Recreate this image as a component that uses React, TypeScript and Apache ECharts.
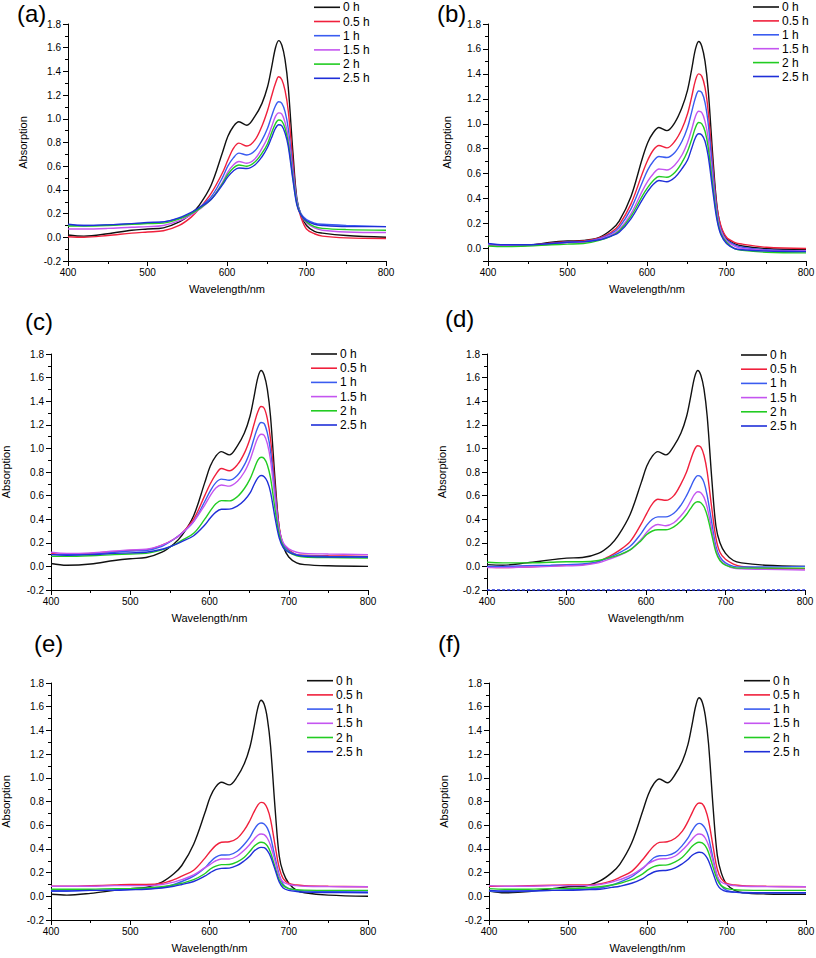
import React, { useEffect, useRef } from 'react';
import * as echarts from 'echarts';

// Wavelength grid (nm) shared by all curves
const WAVELENGTHS = [400, 420, 450, 480, 500, 520, 540, 555, 565, 580, 594, 601, 608, 615, 625, 635, 644, 651, 656, 661, 665, 669, 673, 677, 683, 688, 693, 700, 710, 720, 750, 800];

const SERIES_NAMES = ['0 h', '0.5 h', '1 h', '1.5 h', '2 h', '2.5 h'];
const COLORS = ['#111111', '#f0203c', '#3a5cf0', '#c455f0', '#22cc22', '#1f2fd8'];

const X_TICKS = [400, 500, 600, 700, 800];
const Y_TICKS = [-0.2, 0.0, 0.2, 0.4, 0.6, 0.8, 1.0, 1.2, 1.4, 1.6, 1.8];

// Panel (a)
const PANEL_A: number[][] = [
  [0.02, 0.01, 0.03, 0.06, 0.07, 0.08, 0.13, 0.2, 0.27, 0.44, 0.71, 0.85, 0.935, 0.975, 0.945, 1.02, 1.13, 1.27, 1.43, 1.6, 1.66, 1.62, 1.5, 1.27, 0.71, 0.32, 0.19, 0.1, 0.05, 0.035, 0.015, 0.0],
  [0.005, 0.0, 0.015, 0.035, 0.045, 0.055, 0.1, 0.17, 0.24, 0.37, 0.54, 0.65, 0.75, 0.795, 0.77, 0.82, 0.94, 1.07, 1.19, 1.3, 1.355, 1.33, 1.24, 1.07, 0.63, 0.3, 0.17, 0.07, 0.03, 0.01, -0.005, -0.01],
  [0.105, 0.1, 0.105, 0.115, 0.12, 0.13, 0.16, 0.2, 0.25, 0.34, 0.5, 0.6, 0.67, 0.71, 0.695, 0.73, 0.82, 0.92, 1.02, 1.11, 1.144, 1.13, 1.06, 0.92, 0.57, 0.31, 0.2, 0.15, 0.12, 0.11, 0.1, 0.09],
  [0.07, 0.07, 0.075, 0.085, 0.09, 0.1, 0.14, 0.19, 0.235, 0.32, 0.46, 0.55, 0.61, 0.64, 0.625, 0.66, 0.75, 0.84, 0.93, 1.02, 1.05, 1.04, 0.97, 0.85, 0.53, 0.29, 0.19, 0.12, 0.08, 0.06, 0.045, 0.04],
  [0.095, 0.095, 0.1, 0.11, 0.115, 0.12, 0.155, 0.2, 0.24, 0.32, 0.45, 0.53, 0.585, 0.61, 0.6, 0.635, 0.71, 0.79, 0.88, 0.96, 0.99, 0.98, 0.92, 0.8, 0.5, 0.28, 0.19, 0.13, 0.09, 0.075, 0.065, 0.06],
  [0.11, 0.1, 0.105, 0.115, 0.125, 0.13, 0.165, 0.21, 0.25, 0.32, 0.44, 0.51, 0.56, 0.585, 0.58, 0.61, 0.68, 0.76, 0.84, 0.92, 0.95, 0.94, 0.88, 0.77, 0.48, 0.27, 0.19, 0.14, 0.11, 0.1, 0.09, 0.09],
];

// Panel (b)
const PANEL_B: number[][] = [
  [0.03, 0.02, 0.025, 0.05, 0.06, 0.065, 0.09, 0.15, 0.22, 0.42, 0.72, 0.85, 0.93, 0.97, 0.945, 1.01, 1.13, 1.27, 1.43, 1.6, 1.66, 1.62, 1.5, 1.27, 0.72, 0.34, 0.17, 0.08, 0.04, 0.02, 0.0, -0.01],
  [0.03, 0.02, 0.025, 0.045, 0.055, 0.06, 0.085, 0.13, 0.19, 0.36, 0.6, 0.71, 0.79, 0.826, 0.807, 0.86, 0.96, 1.08, 1.21, 1.35, 1.4, 1.38, 1.29, 1.1, 0.65, 0.33, 0.18, 0.09, 0.05, 0.035, 0.01, 0.0],
  [0.035, 0.025, 0.025, 0.04, 0.05, 0.055, 0.08, 0.12, 0.17, 0.32, 0.53, 0.63, 0.7, 0.738, 0.73, 0.77, 0.86, 0.97, 1.09, 1.21, 1.263, 1.25, 1.17, 1.0, 0.6, 0.3, 0.15, 0.07, 0.03, 0.01, -0.01, -0.02],
  [0.03, 0.025, 0.025, 0.035, 0.045, 0.05, 0.075, 0.11, 0.15, 0.28, 0.46, 0.54, 0.6, 0.638, 0.63, 0.67, 0.75, 0.85, 0.95, 1.06, 1.1, 1.09, 1.02, 0.88, 0.53, 0.27, 0.14, 0.06, 0.02, 0.0, -0.015, -0.02],
  [0.02, 0.015, 0.02, 0.03, 0.035, 0.04, 0.065, 0.1, 0.14, 0.26, 0.42, 0.49, 0.545, 0.577, 0.572, 0.61, 0.69, 0.78, 0.87, 0.97, 1.01, 1.0, 0.94, 0.81, 0.49, 0.25, 0.12, 0.05, 0.0, -0.015, -0.03, -0.035],
  [0.04, 0.03, 0.03, 0.04, 0.05, 0.055, 0.07, 0.1, 0.13, 0.24, 0.39, 0.46, 0.515, 0.545, 0.535, 0.57, 0.64, 0.71, 0.8, 0.89, 0.92, 0.91, 0.86, 0.74, 0.45, 0.23, 0.11, 0.04, 0.0, -0.01, -0.02, -0.025],
];

// Panel (c)
const PANEL_C: number[][] = [
  [0.025, 0.01, 0.02, 0.05, 0.065, 0.075, 0.12, 0.19, 0.26, 0.43, 0.71, 0.85, 0.935, 0.973, 0.945, 1.02, 1.13, 1.27, 1.43, 1.6, 1.66, 1.62, 1.5, 1.27, 0.71, 0.32, 0.17, 0.08, 0.03, 0.015, 0.005, 0.0],
  [0.11, 0.1, 0.11, 0.125, 0.135, 0.14, 0.18, 0.23, 0.28, 0.4, 0.6, 0.7, 0.78, 0.83, 0.81, 0.86, 0.96, 1.08, 1.2, 1.31, 1.355, 1.34, 1.25, 1.08, 0.65, 0.33, 0.19, 0.14, 0.1, 0.095, 0.09, 0.085],
  [0.1, 0.1, 0.105, 0.12, 0.13, 0.135, 0.17, 0.23, 0.28, 0.38, 0.55, 0.64, 0.71, 0.74, 0.73, 0.77, 0.86, 0.97, 1.08, 1.18, 1.22, 1.21, 1.13, 0.98, 0.6, 0.31, 0.19, 0.13, 0.1, 0.09, 0.085, 0.08],
  [0.12, 0.11, 0.115, 0.13, 0.14, 0.145, 0.18, 0.23, 0.28, 0.38, 0.52, 0.6, 0.665, 0.69, 0.68, 0.72, 0.8, 0.9, 1.0, 1.09, 1.12, 1.11, 1.04, 0.9, 0.56, 0.31, 0.2, 0.15, 0.12, 0.11, 0.105, 0.1],
  [0.085, 0.085, 0.09, 0.1, 0.105, 0.11, 0.14, 0.18, 0.22, 0.28, 0.4, 0.47, 0.53, 0.557, 0.555, 0.59, 0.66, 0.74, 0.82, 0.9, 0.925, 0.915, 0.86, 0.75, 0.47, 0.27, 0.17, 0.12, 0.09, 0.08, 0.075, 0.07],
  [0.1, 0.095, 0.1, 0.11, 0.115, 0.12, 0.145, 0.18, 0.21, 0.26, 0.35, 0.41, 0.46, 0.484, 0.485, 0.51, 0.56, 0.62, 0.69, 0.75, 0.77, 0.76, 0.72, 0.63, 0.4, 0.24, 0.16, 0.12, 0.095, 0.085, 0.08, 0.08],
];

// Panel (d)
const PANEL_D: number[][] = [
  [0.015, 0.01, 0.03, 0.055, 0.07, 0.075, 0.11, 0.18, 0.26, 0.44, 0.71, 0.85, 0.935, 0.973, 0.945, 1.02, 1.13, 1.27, 1.43, 1.6, 1.66, 1.62, 1.5, 1.27, 0.72, 0.34, 0.2, 0.11, 0.05, 0.03, 0.01, 0.0],
  [-0.005, -0.01, -0.005, 0.005, 0.01, 0.015, 0.04, 0.09, 0.13, 0.21, 0.36, 0.45, 0.53, 0.569, 0.56, 0.6, 0.7, 0.8, 0.9, 0.99, 1.023, 1.01, 0.94, 0.8, 0.48, 0.24, 0.12, 0.06, 0.02, 0.0, -0.015, -0.02],
  [0.0, 0.0, 0.005, 0.01, 0.015, 0.02, 0.04, 0.08, 0.11, 0.17, 0.28, 0.35, 0.4, 0.42, 0.42, 0.45, 0.52, 0.6, 0.67, 0.74, 0.769, 0.76, 0.71, 0.6, 0.36, 0.17, 0.08, 0.03, 0.0, -0.005, -0.005, 0.0],
  [-0.01, -0.01, -0.005, 0.0, 0.005, 0.01, 0.03, 0.065, 0.09, 0.14, 0.23, 0.29, 0.335, 0.355, 0.345, 0.37, 0.43, 0.49, 0.55, 0.61, 0.633, 0.625, 0.585, 0.5, 0.3, 0.14, 0.06, 0.015, -0.015, -0.02, -0.025, -0.03],
  [0.035, 0.03, 0.03, 0.035, 0.04, 0.04, 0.05, 0.075, 0.095, 0.14, 0.22, 0.27, 0.3, 0.31, 0.31, 0.335, 0.385, 0.44, 0.49, 0.535, 0.548, 0.54, 0.505, 0.43, 0.26, 0.12, 0.05, 0.01, -0.01, -0.015, -0.015, -0.015],
  [-0.2, -0.2, -0.2, -0.2, -0.2, -0.2, -0.2, -0.2, -0.2, -0.2, -0.2, -0.2, -0.2, -0.2, -0.2, -0.2, -0.2, -0.2, -0.2, -0.2, -0.2, -0.2, -0.2, -0.2, -0.2, -0.2, -0.2, -0.2, -0.2, -0.2, -0.2, -0.2],
];

// Panel (e)
const PANEL_E: number[][] = [
  [0.017, 0.01, 0.025, 0.05, 0.065, 0.075, 0.12, 0.19, 0.26, 0.44, 0.7, 0.84, 0.925, 0.963, 0.94, 1.01, 1.12, 1.26, 1.42, 1.59, 1.655, 1.62, 1.5, 1.27, 0.72, 0.34, 0.2, 0.11, 0.05, 0.03, 0.01, 0.0],
  [0.085, 0.085, 0.09, 0.095, 0.1, 0.1, 0.11, 0.14, 0.17, 0.22, 0.32, 0.38, 0.43, 0.456, 0.46, 0.49, 0.56, 0.64, 0.71, 0.77, 0.793, 0.785, 0.74, 0.65, 0.42, 0.24, 0.15, 0.11, 0.095, 0.09, 0.085, 0.08],
  [0.045, 0.045, 0.05, 0.055, 0.06, 0.065, 0.075, 0.1, 0.125, 0.17, 0.24, 0.29, 0.33, 0.348, 0.35, 0.38, 0.44, 0.5, 0.56, 0.605, 0.619, 0.61, 0.575, 0.5, 0.32, 0.18, 0.1, 0.065, 0.05, 0.045, 0.04, 0.037],
  [0.085, 0.085, 0.085, 0.09, 0.09, 0.09, 0.1, 0.12, 0.14, 0.18, 0.24, 0.27, 0.3, 0.315, 0.315, 0.34, 0.39, 0.44, 0.48, 0.515, 0.526, 0.52, 0.49, 0.43, 0.29, 0.17, 0.12, 0.1, 0.09, 0.085, 0.082, 0.08],
  [0.06, 0.06, 0.06, 0.065, 0.065, 0.07, 0.08, 0.095, 0.11, 0.14, 0.19, 0.23, 0.255, 0.267, 0.268, 0.29, 0.33, 0.38, 0.42, 0.447, 0.456, 0.45, 0.425, 0.37, 0.24, 0.14, 0.09, 0.065, 0.055, 0.052, 0.05, 0.05],
  [0.045, 0.045, 0.05, 0.05, 0.055, 0.06, 0.07, 0.085, 0.1, 0.125, 0.17, 0.2, 0.225, 0.236, 0.238, 0.26, 0.3, 0.34, 0.38, 0.405, 0.413, 0.41, 0.385, 0.335, 0.22, 0.12, 0.07, 0.05, 0.04, 0.035, 0.032, 0.03],
];

// Panel (f)
const PANEL_F: number[][] = [
  [0.045, 0.03, 0.04, 0.065, 0.08, 0.085, 0.13, 0.2, 0.27, 0.45, 0.72, 0.86, 0.95, 0.99, 0.958, 1.03, 1.14, 1.28, 1.44, 1.61, 1.675, 1.64, 1.52, 1.29, 0.73, 0.35, 0.2, 0.1, 0.05, 0.03, 0.02, 0.017],
  [0.085, 0.085, 0.09, 0.093, 0.095, 0.095, 0.105, 0.13, 0.16, 0.21, 0.31, 0.37, 0.425, 0.455, 0.46, 0.49, 0.55, 0.63, 0.7, 0.765, 0.787, 0.78, 0.735, 0.64, 0.41, 0.23, 0.15, 0.11, 0.095, 0.09, 0.085, 0.08],
  [0.045, 0.04, 0.045, 0.05, 0.055, 0.06, 0.07, 0.095, 0.12, 0.165, 0.235, 0.28, 0.325, 0.342, 0.345, 0.37, 0.43, 0.49, 0.55, 0.6, 0.615, 0.605, 0.57, 0.5, 0.31, 0.17, 0.09, 0.05, 0.035, 0.03, 0.03, 0.03],
  [0.09, 0.085, 0.085, 0.09, 0.09, 0.09, 0.1, 0.12, 0.14, 0.18, 0.24, 0.275, 0.3, 0.315, 0.318, 0.34, 0.39, 0.44, 0.48, 0.515, 0.526, 0.52, 0.49, 0.43, 0.29, 0.17, 0.12, 0.1, 0.09, 0.085, 0.082, 0.08],
  [0.065, 0.06, 0.06, 0.065, 0.065, 0.07, 0.08, 0.095, 0.11, 0.14, 0.19, 0.225, 0.25, 0.262, 0.265, 0.29, 0.33, 0.38, 0.42, 0.447, 0.456, 0.45, 0.425, 0.37, 0.24, 0.14, 0.09, 0.065, 0.055, 0.052, 0.05, 0.05],
  [0.05, 0.045, 0.045, 0.05, 0.05, 0.055, 0.06, 0.075, 0.085, 0.11, 0.15, 0.18, 0.205, 0.216, 0.22, 0.24, 0.275, 0.31, 0.345, 0.365, 0.372, 0.368, 0.345, 0.3, 0.19, 0.1, 0.06, 0.04, 0.035, 0.032, 0.03, 0.03],
];

const PANEL_LABELS = ['(a)', '(b)', '(c)', '(d)', '(e)', '(f)'];
const Y_MINS = [-0.2, -0.1, -0.2, -0.2, -0.2, -0.2];
const X_NAME = 'Wavelength/nm';
const Y_NAME = 'Absorption';

const FONT = 'Arial, "Liberation Sans", Helvetica, sans-serif';

// Layout (pixels)
const LAYOUT = [
  { grid: { left: 68, top: 24, width: 318, height: 237 }, legend: [314, 7.3], label: [17, 13], yGap: 40 },
  { grid: { left: 488, top: 24, width: 318, height: 237 }, legend: [753, 7], label: [437, 13], yGap: 36 },
  { grid: { left: 51, top: 354, width: 317, height: 236 }, legend: [311, 354], label: [25, 321], yGap: 40 },
  { grid: { left: 487, top: 354, width: 318, height: 236 }, legend: [741, 355], label: [445, 318], yGap: 40 },
  { grid: { left: 51, top: 683, width: 317, height: 237 }, legend: [307, 680.7], label: [34, 643], yGap: 40 },
  { grid: { left: 489, top: 683, width: 317, height: 237 }, legend: [744, 680.7], label: [438, 643], yGap: 40 },
];
const LEGEND_ROWS = [14.2, 13.9, 14.2, 14.2, 14.2, 14.2];
const LEGEND_LINE = 26;

const PANELS = [PANEL_A, PANEL_B, PANEL_C, PANEL_D, PANEL_E, PANEL_F];

export default function App() {
  const ref = useRef<HTMLDivElement>(null);

  useEffect(() => {
    if (!ref.current) return;
    const chart = echarts.init(ref.current, undefined, { renderer: 'svg' });

    const grids: any[] = [];
    const xAxes: any[] = [];
    const yAxes: any[] = [];
    const series: any[] = [];
    const graphics: any[] = [];

    PANELS.forEach((panel, i) => {
      const L = LAYOUT[i];
      grids.push({ ...L.grid, containLabel: false, outerBoundsMode: 'none' });
      xAxes.push({
        type: 'value',
        gridIndex: i,
        min: X_TICKS[0],
        max: X_TICKS[X_TICKS.length - 1],
        interval: 100,
        name: X_NAME,
        nameLocation: 'middle',
        nameGap: 22,
        nameTextStyle: { fontSize: 11, fontFamily: FONT, color: '#000' },
        axisLine: { show: true, onZero: false, lineStyle: { color: '#000', width: 1 } },
        axisTick: { show: true, inside: false, length: 5, lineStyle: { color: '#000' } },
        minorTick: { show: true, splitNumber: 2, length: 3, lineStyle: { color: '#000' } },
        axisLabel: { fontSize: 10, fontFamily: FONT, color: '#000', margin: 6 },
        splitLine: { show: false },
        minorSplitLine: { show: false },
      });
      const yMin = Y_MINS[i];
      yAxes.push({
        type: 'value',
        gridIndex: i,
        min: yMin,
        max: Y_TICKS[Y_TICKS.length - 1],
        ...(yMin === Y_TICKS[0] ? { interval: 0.2 } : { splitNumber: 10 }),
        name: Y_NAME,
        nameLocation: 'middle',
        nameRotate: 90,
        nameGap: L.yGap,
        nameTextStyle: { fontSize: 11, fontFamily: FONT, color: '#000' },
        axisLine: { show: true, onZero: false, lineStyle: { color: '#000', width: 1 } },
        axisTick: { show: true, inside: false, length: 5, lineStyle: { color: '#000' } },
        minorTick: { show: true, splitNumber: 2, length: 3, lineStyle: { color: '#000' } },
        axisLabel: {
          fontSize: 10,
          fontFamily: FONT,
          color: '#000',
          margin: 7,
          showMinLabel: yMin === Y_TICKS[0],
          formatter: (v: number) => (Math.abs(v) < 1e-9 ? '0.0' : v.toFixed(1)),
        },
        splitLine: { show: false },
        minorSplitLine: { show: false },
      });
      panel.forEach((values, j) => {
        const dashed = i === 3 && j === 5;
        series.push({
          type: 'line',
          name: SERIES_NAMES[j],
          xAxisIndex: i,
          yAxisIndex: i,
          data: WAVELENGTHS.map((w, k) => [w, values[k]]),
          smooth: 0.35,
          symbol: 'none',
          clip: !dashed,
          lineStyle: { color: COLORS[j], width: 1.4, type: dashed ? [3, 2] : 'solid' },
          itemStyle: { color: COLORS[j] },
          emphasis: { disabled: true },
          z: 3,
        });
      });
      // legend drawn as line + text
      SERIES_NAMES.forEach((name, j) => {
        const x0 = L.legend[0];
        const y = L.legend[1] + j * LEGEND_ROWS[i];
        graphics.push({
          type: 'line',
          shape: { x1: x0, y1: y, x2: x0 + LEGEND_LINE, y2: y },
          style: { stroke: COLORS[j], lineWidth: 1.6 },
          silent: true,
        });
        graphics.push({
          type: 'text',
          x: x0 + LEGEND_LINE + 3,
          y: y,
          style: { text: name, fontSize: 12, fontFamily: FONT, fill: '#000', verticalAlign: 'middle', align: 'left' },
          silent: true,
        });
      });
      graphics.push({
        type: 'text',
        x: L.label[0],
        y: L.label[1],
        style: { text: PANEL_LABELS[i], fontSize: 24, fontFamily: FONT, fill: '#000', verticalAlign: 'middle', align: 'left' },
        silent: true,
      });
    });

    chart.setOption({
      animation: false,
      backgroundColor: '#fff',
      grid: grids,
      xAxis: xAxes,
      yAxis: yAxes,
      series,
      graphic: graphics,
    });

    return () => chart.dispose();
  }, []);

  return (
    <div
      ref={ref}
      style={{ position: 'fixed', left: 0, top: 0, width: 816, height: 958, background: '#fff' }}
    />
  );
}
